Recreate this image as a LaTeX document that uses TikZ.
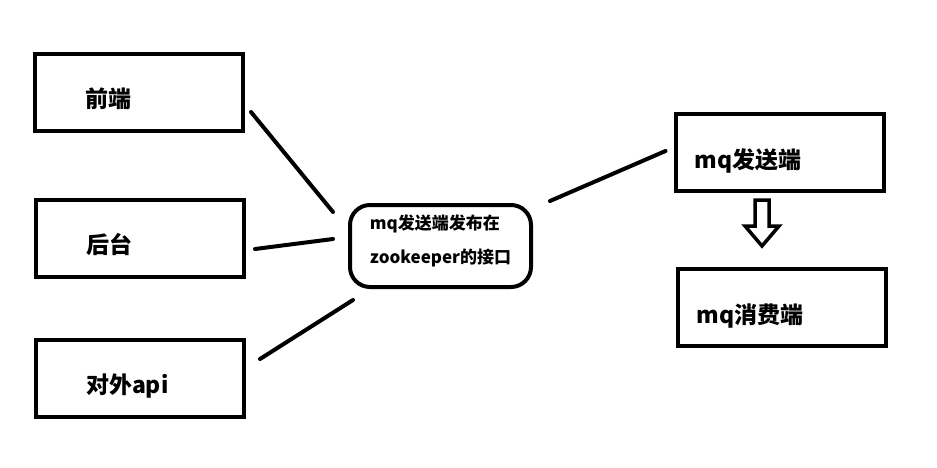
\documentclass[tikz,border=0pt]{standalone}
\usepackage{fontspec}
\setmainfont{Noto Sans CJK SC}
\usetikzlibrary{positioning, calc}

\tikzset{
  blk/.style 2 args={draw, line width=4, minimum height=77, inner xsep=#1, text width=#2,
    align=left, text height=31, text depth=0, font=\fontsize{23}{27}\selectfont\bfseries},
  lft/.style={blk={50}{108}},
  rgt/.style={blk={19}{170}},
  hub/.style={draw, line width=4, rounded corners=20, minimum width=181, minimum height=82,
    align=left, text depth=14, font=\fontsize{17}{34}\selectfont\bfseries},
  link/.style={line width=4, line cap=round}
}

\begin{document}
\begin{tikzpicture}[x=1pt, y=-1pt]
   \useasboundingbox (0,0) rectangle (937,467);
   \node[lft] (front) at (139,92)  {前端};
   \node[lft] (back)  at (140,238) {后台};
   \node[lft] (api)   at (140,378) {对外api};
   \node[hub] (zk)    at (440.5,246) {mq发送端发布在\\zookeeper的接口};
   \node[rgt] (send)  at (779.5,152.5) {mq发送端};
   \node[rgt] (recv)  at (781.5,307.5) {mq消费端};

   \draw[link] ([shift={(6,20)}]front.east) -- ([shift={(-15,-34)}]zk.west);
   \draw[link] ([shift={(9,11)}]back.east) -- ([shift={(-15,-7)}]zk.west);
   \draw[link] ([shift={(14,-19)}]api.east) -- ([shift={(5,11)}]zk.south west);
   \draw[link] ([shift={(17,-2)}]zk.north east) -- ([shift={(-8,-1.5)}]send.west);

   \coordinate (tip) at ([shift={(-19.5,-67)}]recv.north);
   \draw[line width=3.5, line join=miter] (tip) -- ++(-7,0) -- ++(0,26) -- ++(-10,0)
      -- ++(17,20) -- ++(17,-20) -- ++(-10,0) -- ++(0,-26) -- cycle;
\end{tikzpicture}
\end{document}
